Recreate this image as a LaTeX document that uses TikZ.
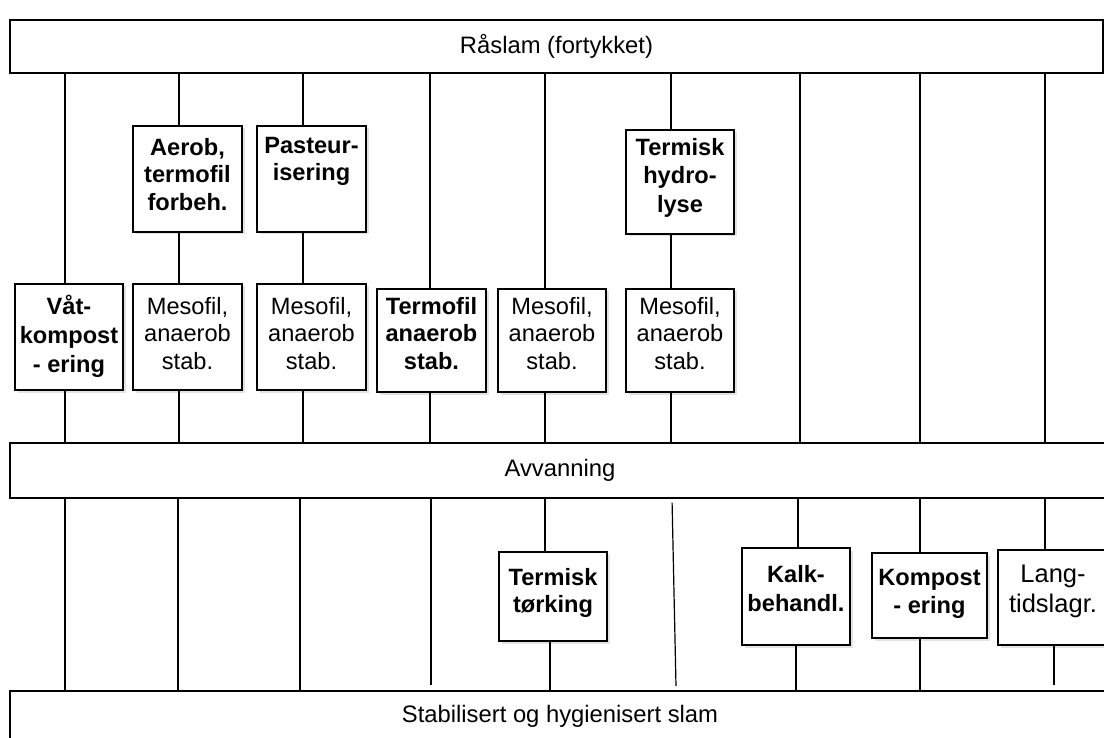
\documentclass[tikz,border=0pt]{standalone}
\usepackage{fontspec}
\setmainfont{Liberation Sans}
\usetikzlibrary{shadows}
\begin{document}
\begin{tikzpicture}[x=1pt,y=-1pt,line width=1.2pt,
  bar/.style={draw,fill=white,inner sep=0pt,font=\fontsize{23.8}{27.5}\selectfont},
  box/.style={draw,fill=white,inner sep=0pt,
    drop shadow={shadow xshift=2.5pt,shadow yshift=-2.5pt,fill=black!22}},
  lbl/.style={font=\fontsize{23.6}{27.5}\selectfont,align=center,inner sep=0pt,anchor=north},
  blbl/.style={lbl,font=\fontsize{23.6}{27.5}\selectfont\bfseries},
  conn/.style={draw,line width=1.2pt}]
\useasboundingbox (0,0) rectangle (1104,738);
\clip (0,0) rectangle (1104,738);

% bars
\node[bar,minimum width=1093pt,minimum height=53pt] (raa) at (556.5,46.5) {Råslam (fortykket)};
\node[bar,minimum width=1100pt,minimum height=55pt] (avv) at (560,470.5) {Avvanning};
\node[bar,minimum width=1100pt,minimum height=50pt] (stab) at (560,716) {Stabilisert og hygienisert slam};

% boxes (upper)
\node[box,minimum width=108pt,minimum height=106pt] (vat) at (69,337) {};
\node[box,minimum width=109pt,minimum height=106pt] (aerob) at (187.5,179) {};
\node[box,minimum width=109pt,minimum height=106pt] (past) at (311.5,179) {};
\node[box,minimum width=109pt,minimum height=106pt] (meso1) at (187.5,337) {};
\node[box,minimum width=109pt,minimum height=106pt] (meso2) at (311.5,337) {};
\node[box,minimum width=109pt,minimum height=103pt] (termo) at (431.5,340.5) {};
\node[box,minimum width=108pt,minimum height=103pt] (meso3) at (552,340.5) {};
\node[box,minimum width=108pt,minimum height=104pt] (hydro) at (680,182) {};
\node[box,minimum width=108pt,minimum height=103pt] (meso4) at (680,340.5) {};
% boxes (lower)
\node[box,minimum width=108pt,minimum height=89pt] (tork) at (553,596.5) {};
\node[box,minimum width=108pt,minimum height=97pt] (kalk) at (796,596.5) {};
\node[box,minimum width=115pt,minimum height=85pt] (komp) at (929.5,595.5) {};
\node[box,minimum width=110pt,minimum height=95pt] (lang) at (1053,597.5) {};

% labels
\node[blbl,font=\fontsize{23.6}{29}\selectfont\bfseries] (vat-t) at ([yshift=-11pt]vat.north) {Våt-\\kompost\\- ering};
\node[blbl] (aerob-t) at ([yshift=-12pt]aerob.north) {Aerob,\\termofil\\forbeh.};
\node[blbl] (past-t) at ([yshift=-11pt]past.north) {Pasteur-\\isering};
\node[lbl] (meso1-t) at ([yshift=-13pt]meso1.north) {Mesofil,\\anaerob\\stab.};
\node[lbl] (meso2-t) at ([yshift=-13pt]meso2.north) {Mesofil,\\anaerob\\stab.};
\node[blbl] (termo-t) at ([yshift=-8pt]termo.north) {Termofil\\anaerob\\stab.};
\node[lbl] (meso3-t) at ([yshift=-8pt]meso3.north) {Mesofil,\\anaerob\\stab.};
\node[blbl,font=\fontsize{23.6}{28.5}\selectfont\bfseries] (hydro-t) at ([yshift=-8pt]hydro.north) {Termisk\\hydro-\\lyse};
\node[lbl] (meso4-t) at ([yshift=-8pt]meso4.north) {Mesofil,\\anaerob\\stab.};
\node[blbl] (tork-t) at ([yshift=-16pt]tork.north) {Termisk\\tørking};
\node[blbl,font=\fontsize{23.6}{29}\selectfont\bfseries] (kalk-t) at ([yshift=-17pt]kalk.north) {Kalk-\\behandl.};
\node[blbl,font=\fontsize{23.6}{28}\selectfont\bfseries] (komp-t) at ([yshift=-16pt]komp.north) {Kompost\\- ering};
\node[lbl,font=\fontsize{25.5}{30}\selectfont] (lang-t) at ([yshift=-15pt]lang.north) {Lang-\\tidslagr.};

% column coordinates
\coordinate (xa) at (65,0);
\coordinate (xb) at (179,0);
\coordinate (xc) at (303,0);
\coordinate (xd) at (430,0);
\coordinate (xe) at (545,0);
\coordinate (xf) at (671,0);
\coordinate (xg) at (800,0);
\coordinate (xh) at (920,0);
\coordinate (xi) at (1045,0);
\coordinate (xb2) at (178,0);
\coordinate (xc2) at (300,0);
\coordinate (xd2) at (431,0);
\coordinate (xe2) at (550,0);
\coordinate (xs) at (672,0);
\coordinate (send) at (676,686);
\coordinate (xk1) at (798,0);
\coordinate (xk2) at (796,0);
\coordinate (xl2) at (1054,0);

% upper connectors
\draw[conn] (raa.south -| xa) -- (vat.north -| xa);
\draw[conn] (vat.south -| xa) -- (avv.north -| xa);
\draw[conn] (raa.south -| xb) -- (aerob.north -| xb);
\draw[conn] (aerob.south -| xb) -- (meso1.north -| xb);
\draw[conn] (meso1.south -| xb) -- (avv.north -| xb);
\draw[conn] (raa.south -| xc) -- (past.north -| xc);
\draw[conn] (past.south -| xc) -- (meso2.north -| xc);
\draw[conn] (meso2.south -| xc) -- (avv.north -| xc);
\draw[conn] (raa.south -| xd) -- (termo.north -| xd);
\draw[conn] (termo.south -| xd) -- (avv.north -| xd);
\draw[conn] (raa.south -| xe) -- (meso3.north -| xe);
\draw[conn] (meso3.south -| xe) -- (avv.north -| xe);
\draw[conn] (raa.south -| xf) -- (hydro.north -| xf);
\draw[conn] (hydro.south -| xf) -- (meso4.north -| xf);
\draw[conn] (meso4.south -| xf) -- (avv.north -| xf);
\draw[conn] (raa.south -| xg) -- (avv.north -| xg);
\draw[conn] (raa.south -| xh) -- (avv.north -| xh);
\draw[conn] (raa.south -| xi) -- (avv.north -| xi);

% lower connectors
\draw[conn] (avv.south -| xa) -- (stab.north -| xa);
\draw[conn] (avv.south -| xb2) -- (stab.north -| xb2);
\draw[conn] (avv.south -| xc2) -- (stab.north -| xc2);
\draw[conn,shorten >=5pt] (avv.south -| xd2) -- (stab.north -| xd2);
\draw[conn] (avv.south -| xe) -- (tork.north -| xe);
\draw[conn] (tork.south -| xe2) -- (stab.north -| xe2);
\draw[conn,shorten <=4pt] (avv.south -| xs) -- (send);
\draw[conn] (avv.south -| xk1) -- (kalk.north -| xk1);
\draw[conn] (kalk.south -| xk2) -- (stab.north -| xk2);
\draw[conn] (avv.south -| xh) -- (komp.north -| xh);
\draw[conn] (komp.south -| xh) -- (stab.north -| xh);
\draw[conn] (avv.south -| xi) -- (lang.north -| xi);
\draw[conn,shorten >=5pt] (lang.south -| xl2) -- (stab.north -| xl2);
\end{tikzpicture}
\end{document}
